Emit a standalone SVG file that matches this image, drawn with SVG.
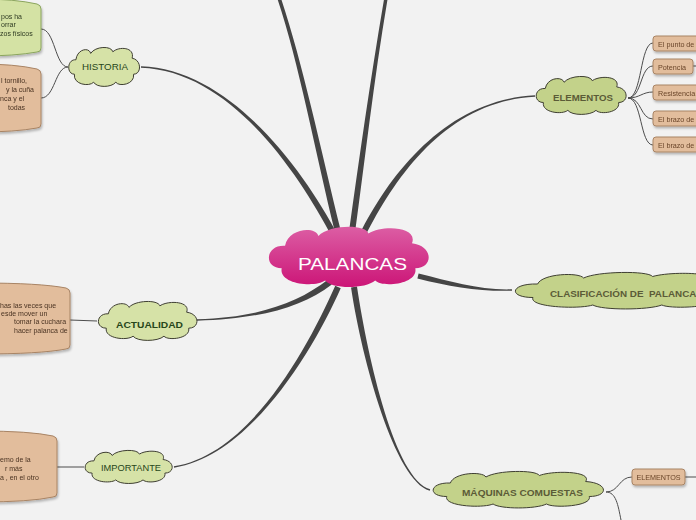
<svg xmlns="http://www.w3.org/2000/svg" width="696" height="520" viewBox="0 0 696 520">
<style>
.bg{fill:#f2f2f2}
.br{fill:#454545}
.cn{fill:none;stroke:#4d4d4d;stroke-width:1}
.lg{fill:#d6e2a7;stroke:#3f3f32}
.og{fill:#c3d28a;stroke:#3f3f32}
.pk{fill:url(#pink)}
.tan{fill:#e2bd9c;stroke:#a88465;stroke-width:1}
.gbx{fill:#d4e2a4;stroke:#8ba55e;stroke-width:1}
.t{font-family:"Liberation Sans",Arial,sans-serif}
.lgt{font-size:9px;fill:#27461a;text-anchor:middle}
.ogt{font-size:9.5px;font-weight:bold;fill:#5b5b37;text-anchor:middle}
.bt{font-size:7px;fill:#4a3322}
.gt{font-size:7px;fill:#2e3a22}
.et{font-size:7.2px;fill:#6a4529}
</style>
<defs>
<linearGradient id="pink" x1="0" y1="0" x2="0" y2="1">
<stop offset="0" stop-color="#dc5ea4"/>
<stop offset="1" stop-color="#cc1577"/>
</linearGradient>
<path id="cloud" vector-effect="non-scaling-stroke" d="M10,34 C-1,34 0,15 12,16 C14,2 30,0 32,8 C38,-1 60,-2 62,6 C70,-1 92,0 88,14 C101,16 101,34 90,34 C92,47 70,50 66,44 C60,51 40,51 36,44 C30,50 8,47 10,34 Z"/>
<filter id="sh" x="-20%" y="-20%" width="140%" height="160%">
<feDropShadow dx="1" dy="2" stdDeviation="1" flood-color="#000" flood-opacity="0.25"/>
</filter>
</defs>
<rect class="bg" x="0" y="0" width="696" height="520"/>

<g id="connectors">
<path class="br" d="M335.1,232.7 C315.1,150.7 298.3,60.5 277.3,-1.5 L280.7,-2.5 C301.7,59.5 320.9,149.3 340.9,231.3 Z"/>
<path class="br" d="M349,231.6 C359,159.6 370.3,79.7 384.3,-2.3 L387.7,-1.7 C373.7,80.3 365,160.4 355,232.4 Z"/>
<path class="br" d="M332.35,237.4 C297.35,171.4 229.98,70.7 140.98,67.7 L141.02,66.3 C230.02,69.3 302.65,168.6 337.65,234.6 Z"/>
<path class="br" d="M359.32,234.66 C392.32,168.66 449.97,99.3 534.97,95.3 L535.03,96.7 C450.03,100.7 397.68,171.34 364.68,237.34 Z"/>
<path class="br" d="M418.61,273.57 C450.61,281.57 479.98,290.3 511.98,289.3 L512.02,290.7 C480.02,291.7 449.39,286.43 417.39,278.43 Z"/>
<path class="br" d="M356.97,286.55 C367.97,359.55 395.19,479.33 430.19,489.33 L429.81,490.67 C394.81,480.67 362.03,360.45 351.03,287.45 Z"/>
<path class="br" d="M331.83,284.38 C301.83,307.38 260.02,318.7 197.02,320.7 L196.98,319.3 C259.98,317.3 298.17,302.62 328.17,279.62 Z"/>
<path class="br" d="M340.74,288.22 C312.74,351.22 250.11,455.69 174.11,467.69 L173.89,466.31 C249.89,454.31 307.26,348.78 335.26,285.78 Z"/>
<path class="cn" d="M68,67 C55,67 55,29 41,29"/>
<path class="cn" d="M68,67 C55,67 55,98 41,98"/>
<path class="cn" d="M97,321 L70,320"/>
<path class="cn" d="M84,467 L57,467"/>
<path class="cn" d="M628,98 C642,98 640,43 653,43"/>
<path class="cn" d="M628,98 C642,98 640,66 653,66"/>
<path class="cn" d="M628,98 C640,98 642,92 653,92"/>
<path class="cn" d="M628,98 C642,98 640,119 653,119"/>
<path class="cn" d="M628,98 C642,98 640,145 653,145"/>
<path class="cn" d="M693,66 L696,66"/>
<path class="cn" d="M606,492 C619,492 619,477 632,477"/>
<path class="cn" d="M606,492 C616,492 618,505 621,520"/>
<path class="cn" d="M685,477 L696,477"/>
</g>

<g id="n-hist-green" filter="url(#sh)">
<path class="gbx" d="M-20,-1 Q15,-1 37,4 Q41,5 41,9 L41,48 Q41,52 37,52 Q15,56 -20,56 Z"/>
<text class="t gt" x="1" y="18.5">pos ha</text>
<text class="t gt" x="1" y="27">orrar</text>
<text class="t gt" x="0" y="35.5">zos físicos</text>
</g>
<g id="n-hist-tan" filter="url(#sh)">
<path class="tan" d="M-20,64 Q15,64 37,69 Q41,70 41,74 L41,124 Q41,128 37,128 Q15,132 -20,132 Z"/>
<text class="t bt" x="1" y="82.5">l tornillo,</text>
<text class="t bt" x="6" y="92">y la cuña</text>
<text class="t bt" x="0" y="101">nca y el</text>
<text class="t bt" x="8" y="109.5">todas</text>
</g>
<g id="n-act-tan" filter="url(#sh)">
<path class="tan" d="M-20,283 Q40,283 66,288 Q70,289 70,293 L70,345 Q70,349 66,349 Q40,354 -20,354 Z"/>
<text class="t bt" x="0" y="307.5">has las veces que</text>
<text class="t bt" x="1" y="315.5">esde mover un</text>
<text class="t bt" x="14" y="324">tomar la cuchara</text>
<text class="t bt" x="14" y="333">hacer palanca de</text>
</g>
<g id="n-imp-tan" filter="url(#sh)">
<path class="tan" d="M-20,431 Q30,431 53,436 Q57,437 57,441 L57,493 Q57,497 53,497 Q30,502 -20,502 Z"/>
<text class="t bt" x="0" y="461.5">emo de la</text>
<text class="t bt" x="5" y="470.5">r más</text>
<text class="t bt" x="0" y="479.5">a , en el otro</text>
</g>

<g id="n-historia">
<use href="#cloud" class="lg" transform="translate(67,47) scale(0.74,0.8)"/>
<text class="t lgt" x="105" y="70" textLength="46" lengthAdjust="spacingAndGlyphs">HISTORIA</text>
</g>
<g id="n-actualidad">
<use href="#cloud" class="lg" transform="translate(96,301) scale(1.03,0.8)"/>
<text class="t lgt" x="149.5" y="327.5" font-weight="bold" fill="#17380c" textLength="67" lengthAdjust="spacingAndGlyphs">ACTUALIDAD</text>
</g>
<g id="n-importante">
<use href="#cloud" class="lg" transform="translate(83,450) scale(0.91,0.68)"/>
<text class="t lgt" x="131" y="471" textLength="60" lengthAdjust="spacingAndGlyphs">IMPORTANTE</text>
</g>
<g id="n-elementos">
<use href="#cloud" class="og" transform="translate(534,76) scale(0.94,0.78)"/>
<text class="t ogt" x="583" y="101" textLength="60" lengthAdjust="spacingAndGlyphs">ELEMENTOS</text>
</g>
<g id="n-clasificacion">
<use href="#cloud" class="og" transform="translate(510,272) scale(2.3,0.75)"/>
<text class="t ogt" x="550" y="296.5" style="text-anchor:start" xml:space="preserve" textLength="153" lengthAdjust="spacingAndGlyphs">CLASIFICACIÓN DE  PALANCAS</text>
</g>
<g id="n-maquinas">
<use href="#cloud" class="og" transform="translate(429,471) scale(1.78,0.75)"/>
<text class="t ogt" x="522.5" y="496" textLength="121" lengthAdjust="spacingAndGlyphs">MÁQUINAS COMUESTAS</text>
</g>
<g id="n-palancas">
<use href="#cloud" class="pk" transform="translate(265,226) scale(1.67,1.24)"/>
<text class="t" x="352.5" y="269.5" font-size="17" fill="#ffffff" text-anchor="middle" textLength="109" lengthAdjust="spacingAndGlyphs">PALANCAS</text>
</g>

<g id="n-e1" filter="url(#sh)">
<rect class="tan" x="653" y="36" width="60" height="15" rx="3"/>
<text class="t et" x="658" y="46.5">El punto de</text>
</g>
<g id="n-e2" filter="url(#sh)">
<rect class="tan" x="653" y="59" width="40" height="15" rx="3"/>
<text class="t et" x="658" y="69.5">Potencia</text>
</g>
<g id="n-e3" filter="url(#sh)">
<rect class="tan" x="653" y="85" width="60" height="15" rx="3"/>
<text class="t et" x="658" y="95.5">Resistencia</text>
</g>
<g id="n-e4" filter="url(#sh)">
<rect class="tan" x="653" y="111" width="60" height="15" rx="3"/>
<text class="t et" x="658" y="121.5">El brazo de</text>
</g>
<g id="n-e5" filter="url(#sh)">
<rect class="tan" x="653" y="137" width="60" height="15" rx="3"/>
<text class="t et" x="658" y="147.5">El brazo de</text>
</g>
<g id="n-m1" filter="url(#sh)">
<rect class="tan" x="632" y="469" width="53" height="16" rx="3"/>
<text class="t et" x="658.5" y="480" text-anchor="middle">ELEMENTOS</text>
</g>
</svg>
